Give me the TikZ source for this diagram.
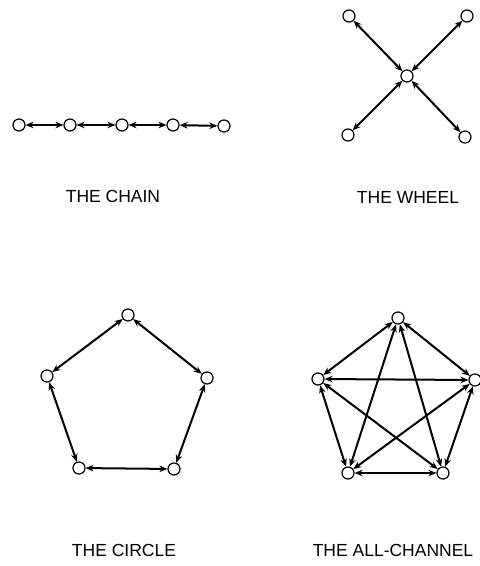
\documentclass[tikz,border=0pt]{standalone}
\usepackage{fontspec}
\setmainfont{Liberation Sans}
\usetikzlibrary{arrows.meta}
\tikzset{
  member/.style={circle, draw, line width=1.2pt, minimum size=12pt, inner sep=0pt},
  channel/.style={{Stealth[length=8pt,width=6.5pt]}-{Stealth[length=8pt,width=6.5pt]}, line width=2pt},
  netname/.style={font=\fontsize{17.5}{20}\selectfont}
}

\begin{document}
\begin{tikzpicture}[x=1pt, y=-1pt]
  \useasboundingbox (0,0) rectangle (480,566);
  % The chain
  \node[member] (ch1) at (19,125)  {};
  \node[member] (ch2) at (70,125)  {};
  \node[member] (ch3) at (122,125) {};
  \node[member] (ch4) at (173,125) {};
  \node[member] (ch5) at (224,126) {};
  \draw[channel] (ch1) -- (ch2);
  \draw[channel] (ch2) -- (ch3);
  \draw[channel] (ch3) -- (ch4);
  \draw[channel] (ch4) -- (ch5);
  \node[netname] (chainname) at (113,196) {THE CHAIN};
  % The wheel
  \node[member] (wh0) at (407,76)  {};
  \node[member] (wh1) at (349,16)  {};
  \node[member] (wh2) at (467,16)  {};
  \node[member] (wh3) at (348,135) {};
  \node[member] (wh4) at (465,137) {};
  \draw[channel] (wh0) -- (wh1);
  \draw[channel] (wh0) -- (wh2);
  \draw[channel] (wh0) -- (wh3);
  \draw[channel] (wh0) -- (wh4);
  \node[netname] (wheelname) at (408,197) {THE WHEEL};
  % The circle
  \node[member] (ci1) at (128,315) {};
  \node[member] (ci2) at (207,378) {};
  \node[member] (ci3) at (174,469) {};
  \node[member] (ci4) at (79,468)  {};
  \node[member] (ci5) at (47,376)  {};
  \draw[channel] (ci1) -- (ci2);
  \draw[channel] (ci2) -- (ci3);
  \draw[channel] (ci3) -- (ci4);
  \draw[channel] (ci4) -- (ci5);
  \draw[channel] (ci5) -- (ci1);
  \node[netname] (circlename) at (124,550) {THE CIRCLE};
  % The all-channel
  \node[member] (al1) at (398,318) {};
  \node[member] (al2) at (475,380) {};
  \node[member] (al3) at (443,473) {};
  \node[member] (al4) at (348,473) {};
  \node[member] (al5) at (318,379) {};
  \draw[channel] (al1) -- (al2);
  \draw[channel] (al2) -- (al3);
  \draw[channel] (al3) -- (al4);
  \draw[channel] (al4) -- (al5);
  \draw[channel] (al5) -- (al1);
  \draw[channel] (al1) -- (al3);
  \draw[channel] (al1) -- (al4);
  \draw[channel] (al2) -- (al4);
  \draw[channel] (al2) -- (al5);
  \draw[channel] (al3) -- (al5);
  \node[netname] (allname) at (393,550) {THE ALL-CHANNEL};
\end{tikzpicture}
\end{document}
